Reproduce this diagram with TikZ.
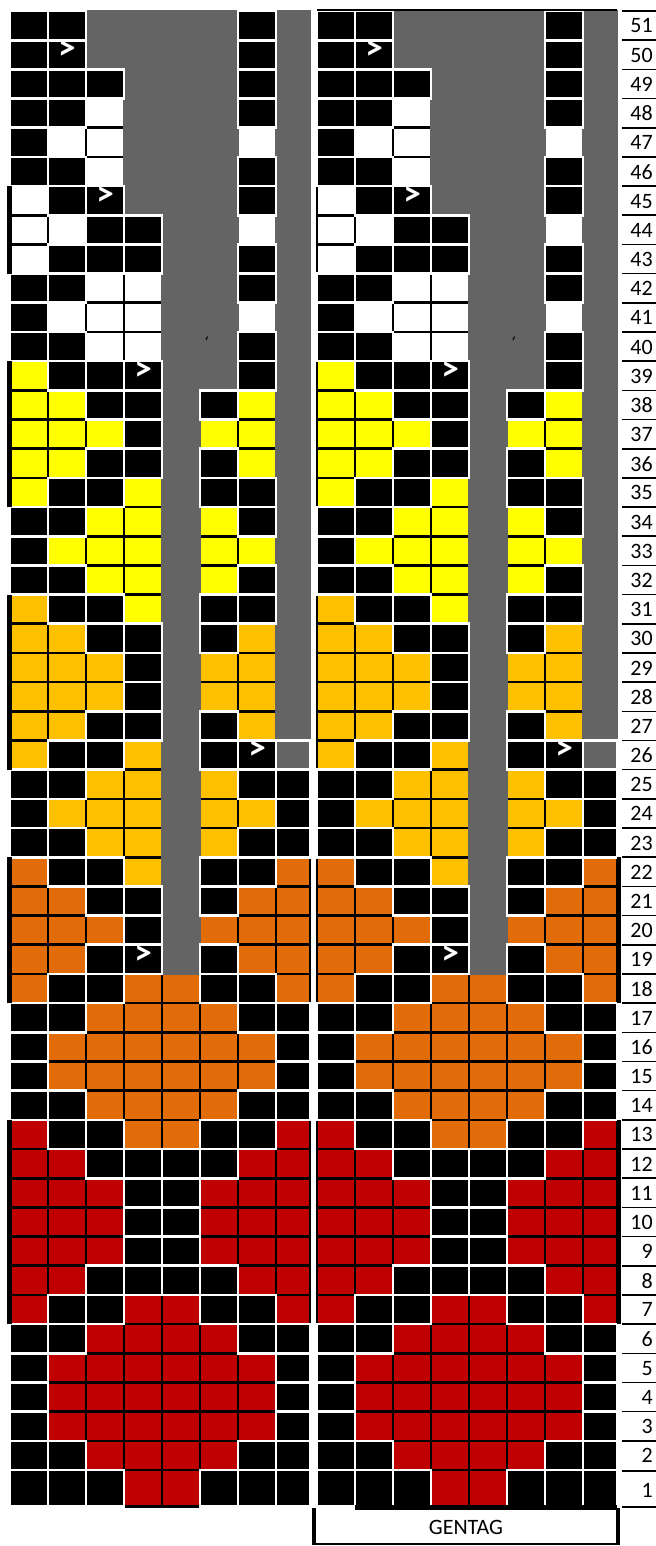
\documentclass[tikz,border=0pt]{standalone}
\usepackage{fontspec}
\setmainfont{Carlito}
\usepackage{xcolor}

\definecolor{knitgray}{RGB}{100,100,100}
\definecolor{knityellow}{RGB}{255,255,0}
\definecolor{knitgold}{RGB}{255,192,0}
\definecolor{knitorange}{RGB}{226,107,10}
\definecolor{knitred}{RGB}{192,0,0}

% one row per line, columns 1-8
\def\chartrows{%
51/{K,K,G,G,G,G,K,G}, 50/{K,K,G,G,G,G,K,G}, 49/{K,K,K,G,G,G,K,G},
48/{K,K,W,G,G,G,K,G}, 47/{K,W,W,G,G,G,W,G}, 46/{K,K,W,G,G,G,K,G},
45/{W,K,K,G,G,G,K,G}, 44/{W,W,K,K,G,G,W,G}, 43/{W,K,K,K,G,G,K,G},
42/{K,K,W,W,G,G,K,G}, 41/{K,W,W,W,G,G,W,G}, 40/{K,K,W,W,G,G,K,G},
39/{Y,K,K,K,G,G,K,G}, 38/{Y,Y,K,K,G,K,Y,G}, 37/{Y,Y,Y,K,G,Y,Y,G},
36/{Y,Y,K,K,G,K,Y,G}, 35/{Y,K,K,Y,G,K,K,G}, 34/{K,K,Y,Y,G,Y,K,G},
33/{K,Y,Y,Y,G,Y,Y,G}, 32/{K,K,Y,Y,G,Y,K,G}, 31/{O,K,K,Y,G,K,K,G},
30/{O,O,K,K,G,K,O,G}, 29/{O,O,O,K,G,O,O,G}, 28/{O,O,O,K,G,O,O,G},
27/{O,O,K,K,G,K,O,G}, 26/{O,K,K,O,G,K,K,g}, 25/{K,K,O,O,G,O,K,K},
24/{K,O,O,O,G,O,O,K}, 23/{K,K,O,O,G,O,K,K}, 22/{R,K,K,O,G,K,K,R},
21/{R,R,K,K,G,K,R,R}, 20/{R,R,R,K,G,R,R,R}, 19/{R,R,K,K,G,K,R,R},
18/{R,K,K,R,R,K,K,R}, 17/{K,K,R,R,R,R,K,K}, 16/{K,R,R,R,R,R,R,K},
15/{K,R,R,R,R,R,R,K}, 14/{K,K,R,R,R,R,K,K}, 13/{D,K,K,R,R,K,K,D},
12/{D,D,K,K,K,K,D,D}, 11/{D,D,D,K,K,D,D,D}, 10/{D,D,D,K,K,D,D,D},
9/{D,D,D,K,K,D,D,D}, 8/{D,D,K,K,K,K,D,D}, 7/{D,K,K,D,D,K,K,D},
6/{K,K,D,D,D,D,K,K}, 5/{K,D,D,D,D,D,D,K}, 4/{K,D,D,D,D,D,D,K},
3/{K,D,D,D,D,D,D,K}, 2/{K,K,D,D,D,D,K,K}, 1/{K,K,K,D,D,K,K,K}}

\begin{document}
\begin{tikzpicture}[
    x=0.02cm, y=-0.02cm,
    gridline/.style={line width=1.5pt},
    lightcell/.style={gridline, draw=black},
    % pass a: coloured and white stitches
    pa/K/.style={}, pa/G/.style={}, pa/g/.style={},
    pa/W/.style={lightcell, fill=white},
    pa/Y/.style={lightcell, fill=knityellow},
    pa/O/.style={lightcell, fill=knitgold},
    pa/R/.style={lightcell, fill=knitorange},
    pa/D/.style={lightcell, fill=knitred},
    % pass b: no stitch
    pb/K/.style={}, pb/g/.style={}, pb/W/.style={}, pb/Y/.style={},
    pb/O/.style={}, pb/R/.style={}, pb/D/.style={},
    pb/G/.style={gridline, fill=knitgray, draw=knitgray},
    % pass c: black stitches
    pc/G/.style={}, pc/W/.style={}, pc/Y/.style={},
    pc/O/.style={}, pc/R/.style={}, pc/D/.style={},
    pc/K/.style={gridline, fill=black, draw=white},
    pc/g/.style={gridline, fill=knitgray, draw=white},
    rownum/.style={anchor=east, inner sep=0pt, font=\fontsize{12.5}{13}\selectfont},
    numline/.style={line width=0.9pt},
    knitmark/.style={text=white, inner sep=0pt, font=\fontsize{20}{20}\selectfont\bfseries},
    sidebar/.style={line width=2.8pt},
]
    \useasboundingbox (0,0) rectangle (656,1546);

    % the two charts
    \foreach \chx in {10,317} {
      \foreach \pass in {pa,pb,pc} {
        \foreach \r/\cells in \chartrows {
          \pgfmathsetmacro\yt{11+(51-\r)*29.18}
          \pgfmathsetmacro\h{\r==1 ? 36.3 : 29.18}
          \foreach \t [count=\c] in \cells {
            \pgfmathsetmacro\xl{\chx+(\c-1)*38}
            \pgfmathsetmacro\w{\c==8 ? 34 : 38}
            \path[\pass/\t] (\xl,\yt) rectangle ++(\w,\h);
          }
        }
      }
      % slip marks
      \foreach \r/\c in {50/2,45/3,39/4,26/7,19/4} {
        \pgfmathsetmacro\xc{\chx+(\c-1)*38+19}
        \pgfmathsetmacro\yc{11+(51-\r)*29.18+10}
        \node[knitmark] (mark\chx-\r) at (\xc,\yc) {>};
      }
      \draw[line width=0.6pt] ({\chx+196},340) -- ({\chx+197.5},336.5);
    }

    % outer borders
    \foreach \a/\b in {45/43,39/35,31/26,22/18,13/7}
      \draw[sidebar] (9.5,{11+(51-\a)*29.18}) -- (9.5,{11+(52-\b)*29.18});
    \foreach \a/\b in {22/18,13/7}
      \draw[sidebar] (619,{11+(51-\a)*29.18}) -- (619,{11+(52-\b)*29.18});
    \draw[gridline] (317,10) -- (617,10);

    % row numbers
    \foreach \r in {2,...,51} {
      \pgfmathsetmacro\yt{11+(51-\r)*29.18}
      \draw[numline] (622,\yt) -- (656,\yt);
      \node[rownum] (num\r) at (653,{\yt+15}) {\r};
    }
    \draw[numline] (622,1470.7) -- (656,1470.7);
    \draw[numline] (622,1507) -- (656,1507);
    \node[rownum] (num1) at (653,1490) {1};

    % label box
    \node (gentag) at (466,1527) {\fontsize{12.5}{13}\selectfont GENTAG};
    \draw[sidebar] (355,1507.5) -- (617,1507.5);
    \draw[line width=2.3pt] (314,1508) -- (314,1545);
    \draw[line width=2.3pt] (618,1508) -- (618,1545);
    \draw[line width=0.9pt] (314,1544) -- (618,1544);
\end{tikzpicture}
\end{document}
